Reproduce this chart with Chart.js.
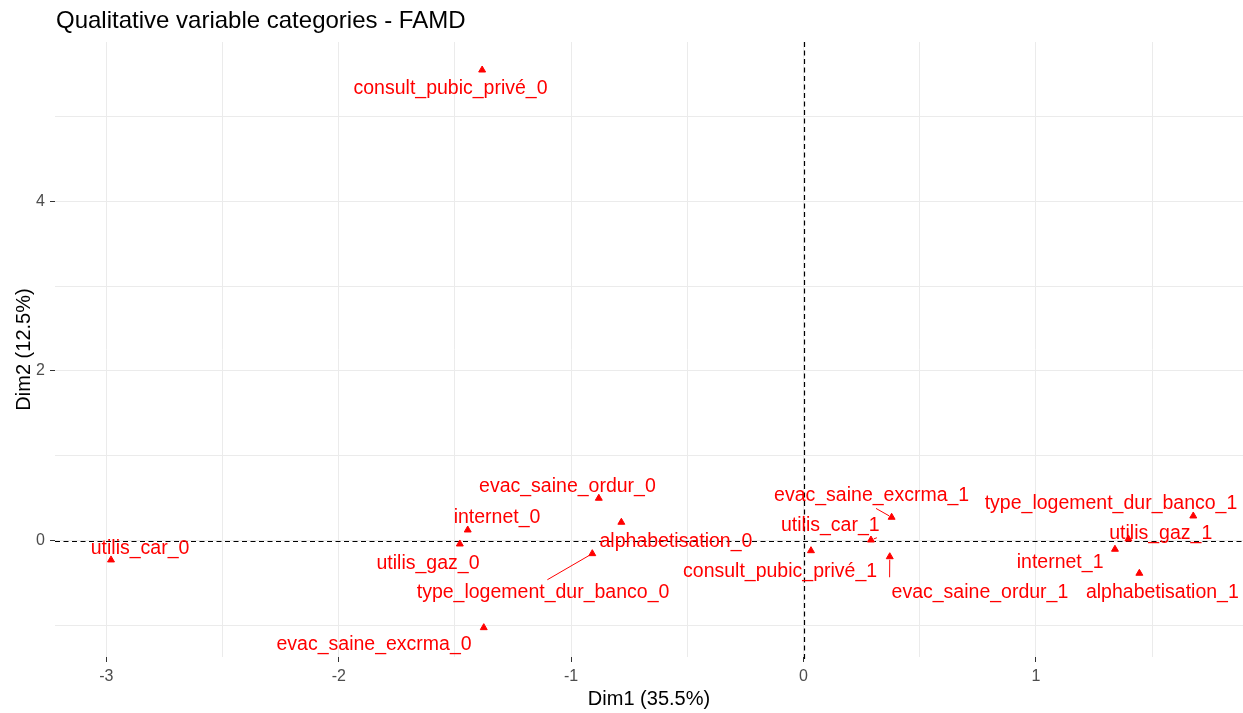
<!DOCTYPE html>
<html>
<head>
<meta charset="utf-8">
<script src="https://cdn.jsdelivr.net/npm/chart.js@4"></script>
<style>
body { margin: 0; background: #fff; overflow: hidden; }
canvas { display: block; }
</style>
</head>
<body>
<canvas id="chart1" width="1243" height="713"></canvas>
<script>
// category coordinates on the first two FAMD dimensions
var categories = [
    'consult_pubic_privé_0', 'utilis_car_0', 'evac_saine_ordur_0', 'internet_0',
    'alphabetisation_0', 'utilis_gaz_0', 'type_logement_dur_banco_0', 'evac_saine_excrma_0',
    'consult_pubic_privé_1', 'evac_saine_excrma_1', 'utilis_car_1', 'evac_saine_ordur_1',
    'type_logement_dur_banco_1', 'utilis_gaz_1', 'internet_1', 'alphabetisation_1'
];
var dim1 = [-1.383, -2.98, -0.881, -1.445, -0.784, -1.479, -0.909, -1.376,
            0.032, 0.379, 0.29, 0.371, 1.677, 1.398, 1.34, 1.445];
var dim2 = [5.547, -0.227, 0.50, 0.126, 0.217, -0.039, -0.153, -1.025,
            -0.118, 0.276, 0.008, -0.189, 0.291, 0.02, -0.101, -0.384];
// repelled label anchors (data units)
var labelDim1 = [-1.519, -2.855, -1.016, -1.319, -0.549, -1.616, -1.121, -1.848,
                 -0.101, 0.293, 0.115, 0.759, 1.323, 1.537, 1.104, 1.544];
var labelDim2 = [5.323, -0.090, 0.636, 0.276, -0.012, -0.275, -0.608, -1.229,
                 -0.369, 0.527, 0.173, -0.608, 0.441, 0.079, -0.259, -0.608];
var leader = [false, false, false, false, false, false, true, false,
              false, true, true, true, false, false, false, false];
var xTicks = [-3, -2, -1, 0, 1];
var yTicks = [0, 2, 4];

var points = [];
for (var i = 0; i < categories.length; i++) {
    points.push({ x: dim1[i], y: dim2[i] });
}

function isTick(list, v) {
    for (var k = 0; k < list.length; k++) {
        if (Math.abs(list[k] - v) < 1e-9) return true;
    }
    return false;
}

var labelFont = '19.5px "Liberation Sans", Arial, sans-serif';

var famdPlugin = {
    id: 'famd',
    beforeDatasetsDraw: function(chart) {
        var ctx = chart.ctx;
        var a = chart.chartArea;
        var x0 = chart.scales.x.getPixelForValue(0);
        var y0 = chart.scales.y.getPixelForValue(0);
        ctx.save();
        ctx.strokeStyle = '#000';
        ctx.lineWidth = 1.2;
        ctx.setLineDash([5, 3.5]);
        ctx.beginPath();
        ctx.moveTo(a.left, Math.round(y0) + 0.5);
        ctx.lineTo(a.right, Math.round(y0) + 0.5);
        ctx.moveTo(Math.round(x0) + 0.5, a.top);
        ctx.lineTo(Math.round(x0) + 0.5, a.bottom + 5);
        ctx.stroke();
        ctx.restore();
    },
    afterDatasetsDraw: function(chart) {
        var ctx = chart.ctx;
        var sx = chart.scales.x;
        var sy = chart.scales.y;
        ctx.save();
        ctx.font = labelFont;
        ctx.fillStyle = '#ff0000';
        ctx.strokeStyle = '#ff0000';
        ctx.lineWidth = 1;
        ctx.textAlign = 'center';
        ctx.textBaseline = 'middle';
        for (var i = 0; i < categories.length; i++) {
            var lx = sx.getPixelForValue(labelDim1[i]);
            var ly = sy.getPixelForValue(labelDim2[i]);
            var px = sx.getPixelForValue(dim1[i]);
            var py = sy.getPixelForValue(dim2[i]);
            if (leader[i]) {
                var w = ctx.measureText(categories[i]).width / 2 + 2;
                var h = 10;
                var best = null, bd = 1e9;
                [-1, 0, 1].forEach(function(ix) {
                    [-1, 0, 1].forEach(function(iy) {
                        var cx = lx + ix * w, cy = ly + iy * h;
                        var d = Math.hypot(cx - px, cy - py);
                        if (d < bd) { bd = d; best = [cx, cy]; }
                    });
                });
                var dx = best[0] - px, dy = best[1] - py;
                var s = 3 / bd;
                var e = Math.max(0, (bd - 5) / bd);
                ctx.beginPath();
                ctx.moveTo(px + dx * s, py + dy * s);
                ctx.lineTo(px + dx * e, py + dy * e);
                ctx.stroke();
            }
            ctx.fillText(categories[i], lx, ly);
        }
        ctx.restore();
    },
    afterDraw: function(chart) {
        var ctx = chart.ctx;
        ctx.save();
        ctx.font = '24px "Liberation Sans", Arial, sans-serif';
        ctx.fillStyle = '#000';
        ctx.textAlign = 'left';
        ctx.textBaseline = 'middle';
        ctx.fillText('Qualitative variable categories - FAMD', 56, 21);
        ctx.restore();
    }
};

var ctx1 = document.getElementById('chart1').getContext('2d');
var chart1 = new Chart(ctx1, {
    type: 'scatter',
    data: {
        datasets: [{
            label: 'Qualitative',
            data: points,
            pointStyle: 'triangle',
            pointRadius: 4,
            pointBorderWidth: 1,
            backgroundColor: '#ff0000',
            borderColor: '#ff0000'
        }]
    },
    plugins: [famdPlugin],
    options: {
        responsive: false,
        animation: false,
        layout: { autoPadding: false, padding: { top: 42, right: 0, left: 0, bottom: 0 } },
        plugins: {
            legend: { display: false },
            title: { display: false },
            tooltip: { enabled: false }
        },
        scales: {
            x: {
                type: 'linear',
                min: -3.221,
                max: 1.891,
                afterFit: function(s) {
                    s.height = 56;
                    s.paddingLeft = 0;
                    s.paddingRight = 0;
                },
                border: { display: false },
                grid: {
                    color: function(c) {
                        var v = c.tick.value;
                        return Math.abs(v * 2 - Math.round(v * 2)) < 1e-9 ? '#ebebeb' : 'rgba(0,0,0,0)';
                    },
                    tickColor: function(c) {
                        return isTick(xTicks, c.tick.value) ? '#333333' : 'rgba(0,0,0,0)';
                    },
                    tickLength: 5,
                    lineWidth: 1
                },
                ticks: {
                    stepSize: 0.5,
                    includeBounds: false,
                    autoSkip: false,
                    maxRotation: 0,
                    padding: 5,
                    color: '#4d4d4d',
                    font: { family: '"Liberation Sans", Arial, sans-serif', size: 16 },
                    callback: function(v) { return isTick(xTicks, v) ? String(v) : ''; }
                },
                title: {
                    display: true,
                    text: 'Dim1 (35.5%)',
                    color: '#000',
                    font: { family: '"Liberation Sans", Arial, sans-serif', size: 20 },
                    padding: { top: 0, bottom: 2 }
                }
            },
            y: {
                type: 'linear',
                min: -1.371,
                max: 5.877,
                afterFit: function(s) {
                    s.width = 55;
                    s.paddingTop = 0;
                    s.paddingBottom = 0;
                },
                border: { display: false },
                grid: {
                    color: function(c) {
                        var v = c.tick.value;
                        return Math.abs(v - Math.round(v)) < 1e-9 ? '#ebebeb' : 'rgba(0,0,0,0)';
                    },
                    tickColor: function(c) {
                        return isTick(yTicks, c.tick.value) ? '#333333' : 'rgba(0,0,0,0)';
                    },
                    tickLength: 5,
                    lineWidth: 1
                },
                ticks: {
                    stepSize: 1,
                    includeBounds: false,
                    autoSkip: false,
                    padding: 5,
                    color: '#4d4d4d',
                    font: { family: '"Liberation Sans", Arial, sans-serif', size: 16 },
                    callback: function(v) { return isTick(yTicks, v) ? String(v) : ''; }
                },
                title: {
                    display: true,
                    text: 'Dim2 (12.5%)',
                    color: '#000',
                    font: { family: '"Liberation Sans", Arial, sans-serif', size: 20 },
                    padding: { top: 12, bottom: 0 }
                }
            }
        }
    }
});
</script>
</body>
</html>
